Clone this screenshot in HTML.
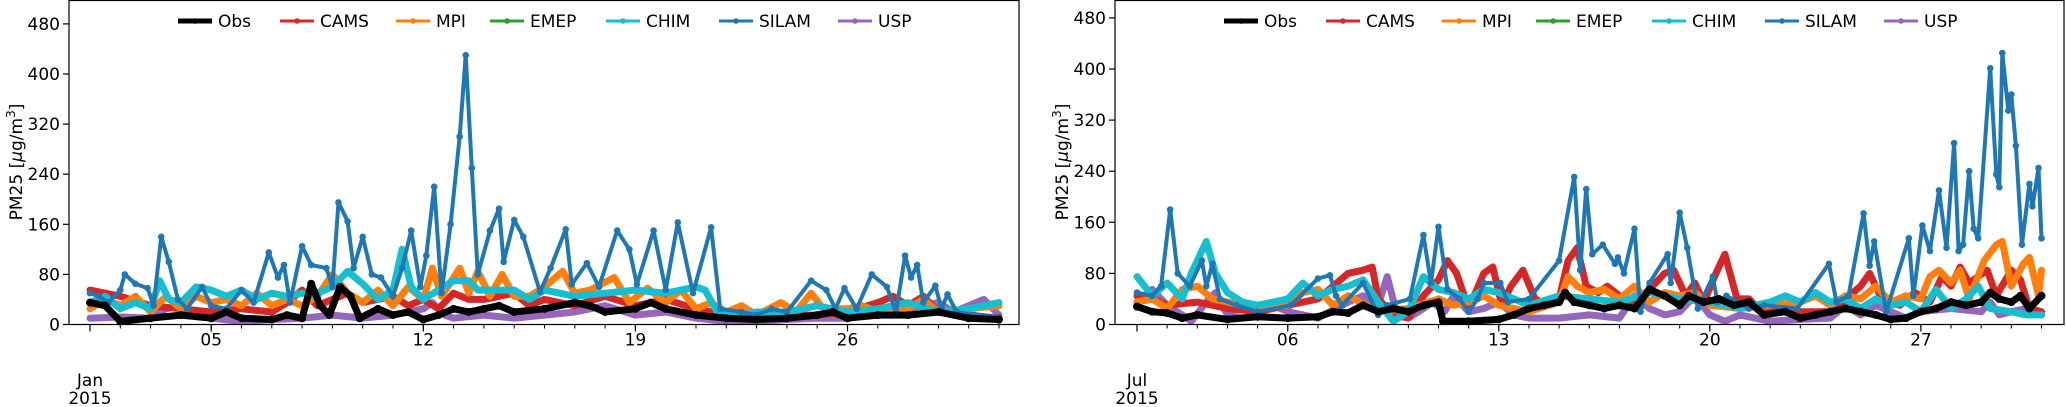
<!DOCTYPE html>
<html><head><meta charset="utf-8"><style>
html,body{margin:0;padding:0;background:#fff;}
svg{display:block;font-family:"DejaVu Sans","Liberation Sans",sans-serif;}
</style></head><body>
<svg id="c" width="2066" height="407" viewBox="0 0 2066 407" xmlns="http://www.w3.org/2000/svg"></svg>
<script>
// ---- data: January panel (day-of-month, value) ----
const janObsT=[1,1.5,2,3,4,5,5.5,6,7,7.5,8,8.3,8.6,8.9,9.25,9.6,9.9,10.5,11,11.5,12,12.5,13,13.5,14,14.5,15,16,17,17.5,18,19,19.5,20,21,22,23,24,25,25.5,26,27,28,29,30,31];
const janObsV=[35,30,5,10,15,10,20,10,8,15,10,65,30,15,60,45,10,25,15,20,8,15,25,20,25,30,20,25,35,30,20,25,35,25,15,10,8,10,15,20,10,15,15,20,10,8];
const janCamsT=[1,2,3,4,5,6,7,7.5,8,8.5,9,9.5,10,11,11.5,12,12.5,13,13.5,14,15,15.5,16,17,18,19,20,21,22,23,24,25,26,27,27.5,28,28.5,29,30,31];
const janCamsV=[55,45,30,25,20,25,20,35,55,30,40,50,35,45,30,40,25,50,40,40,50,30,40,30,45,30,40,25,15,10,15,15,20,35,45,30,45,20,15,10];
const janMpiT=[1,1.5,2,2.5,3,3.5,4,4.5,5,5.5,6,6.5,7,7.5,8,8.5,9,9.5,10,10.5,11,11.5,12,12.3,12.6,13.2,13.5,13.8,14.2,14.6,15,15.5,16,16.6,17,17.5,18.3,18.8,19.4,20,20.5,21,21.5,22,22.5,23,23.8,24.3,24.8,25.2,26,26.5,27,28,28.5,29,30,31];
const janMpiV=[25,40,30,45,20,45,25,45,35,40,30,50,30,40,30,45,80,50,35,55,30,60,40,90,45,90,50,85,45,80,45,45,60,85,50,55,75,35,58,35,55,25,35,20,30,15,35,20,50,25,25,30,20,25,40,20,25,30];
const janChimT=[1,1.5,2,2.5,3,3.3,3.6,4,4.5,5,5.5,6,6.5,7,7.5,8,8.5,9,9.5,10,10.5,11,11.3,11.6,12,12.5,13,13.5,13.8,14.2,15,15.5,16,17,18,19,20,21,21.3,21.7,22.5,23,24,25,26,27,28,29,30,31];
const janChimV=[35,45,25,35,25,70,40,35,60,55,45,55,40,50,45,50,50,60,85,65,40,55,120,60,40,55,70,70,55,55,55,40,55,45,50,55,50,60,55,20,15,20,20,30,20,25,35,20,25,35];
const janSilamT=[1,1.3,1.6,2,2.15,2.5,2.9,3.1,3.35,3.6,3.9,4.2,4.7,5,5.5,6,6.4,6.9,7.2,7.4,7.6,8,8.3,8.8,9,9.2,9.5,9.7,10,10.3,10.6,11,11.3,11.6,11.9,12.1,12.36,12.6,12.9,13.2,13.4,13.6,13.8,14.2,14.5,14.65,15,15.3,15.85,16.2,16.7,16.9,17.4,17.8,18.4,18.8,19.05,19.6,20,20.4,20.9,21.5,21.8,22.5,23,23.5,24,24.8,25.3,25.6,25.9,26.3,26.8,27.3,27.6,27.9,28.1,28.3,28.5,28.9,29.1,29.3,29.6,30.2,31];
const janSilamV=[50,45,35,55,80,65,58,30,140,100,40,25,60,30,25,55,35,115,75,95,35,125,95,90,60,195,165,90,140,80,75,45,90,150,60,110,220,50,160,300,430,250,80,150,185,100,167,140,52,90,152,64,98,60,150,120,64,150,55,163,50,155,25,20,15,25,20,70,55,25,58,25,80,60,20,110,75,95,35,62,25,48,20,15,12];
const janUspT=[1,2,3,3.5,4,4.5,5,6,7,8,9,10,11,12,12.3,12.7,13,14,15,16,17,18,19,20,21,22,23,24,25,26,27,28,29,29.5,30,30.5,31];
const janUspV=[10,12,10,25,30,15,10,5,8,10,15,10,15,25,35,15,10,15,10,15,20,30,15,20,10,5,5,8,10,10,20,25,35,20,30,40,15];
// ---- data: July panel ----
const julObsT=[1,1.5,2,2.5,3,4,5,6,7,7.5,8,8.5,9,9.5,10,10.5,11,11.15,12,13,13.5,14,14.5,15,15.2,15.5,16,16.5,17,17.5,18,18.5,19,19.3,19.8,20.3,20.8,21.3,21.8,22.5,23,23.5,24,24.5,25,25.5,26,26.5,27,27.5,28,28.5,29,29.3,29.6,30,30.3,30.6,31];
const julObsV=[28,20,18,10,15,8,12,10,12,20,18,30,20,25,20,30,35,5,5,8,15,25,30,35,50,35,30,25,30,25,55,45,30,45,35,40,30,35,15,20,10,15,20,25,20,15,8,10,20,25,35,30,35,50,40,35,45,25,45];
const julCamsT=[1,1.5,2,3,4,5,6,7,7.5,8,8.5,8.8,9,9.5,10,10.5,11,11.3,11.6,12,12.5,12.8,13.1,13.4,13.8,14.2,14.6,15,15.3,15.6,15.9,16.3,16.6,17,17.5,18,18.5,18.8,19.2,19.5,19.8,20.2,20.5,20.9,21.3,21.6,22,23,24,25,25.3,25.7,26.3,26.8,27.3,27.7,28,28.3,28.6,29.2,29.5,30,30.3,30.6,31];
const julCamsV=[45,40,30,35,25,20,30,40,60,80,85,90,40,15,10,45,70,100,80,25,80,90,30,60,85,40,30,40,100,120,60,50,60,45,35,55,80,85,45,65,35,80,110,40,40,25,20,20,20,60,80,40,30,50,35,75,60,90,65,85,45,85,70,25,20];
const julMpiT=[1,1.5,2,2.5,3,3.5,4,5,6,6.5,7,7.5,8,9,10,11,11.5,12,12.5,13,14,15,15.3,15.6,16,16.5,17,17.5,18,18.5,19,19.5,20,21,22,23,23.5,24,24.5,25,25.5,26,26.5,27,27.3,27.6,28,28.3,28.6,29.1,29.5,29.7,30,30.4,30.6,30.9,31];
const julMpiV=[35,40,25,55,60,40,35,25,30,50,55,30,45,20,25,40,30,35,45,30,20,35,75,60,50,55,40,60,35,50,45,50,30,25,30,35,45,30,45,40,60,35,45,40,75,85,65,85,40,100,125,130,60,95,105,45,85];
const julChimT=[1,1.5,2,2.5,2.8,3.3,3.6,4,4.5,5,6,6.5,7,7.5,8,8.5,9,9.5,10,10.5,11,11.5,12,12.5,13,13.5,14,15,16,17,18,19,20,21,22,22.5,23,23.5,24,24.5,25,25.5,26,26.5,27,27.5,28,28.5,28.9,29.3,30,30.5,31];
const julChimV=[75,45,65,40,80,130,80,50,35,30,40,65,45,55,60,70,35,5,20,75,55,50,40,55,50,40,30,45,40,35,50,40,35,25,35,45,35,50,35,40,25,40,30,35,20,55,25,40,60,25,20,15,15];
const julSilamT=[1,1.5,1.8,2.1,2.35,2.75,3.15,3.3,3.5,3.75,4.3,5,6.1,7,7.4,7.6,7.8,8.5,9,9.3,10.05,10.5,10.75,11,11.3,11.7,12,12.3,12.5,13.05,13.3,14,15,15.5,15.7,15.9,16.1,16.45,16.85,16.95,17.15,17.5,17.7,18,18.6,18.7,19,19.25,19.6,20.1,20.25,20.55,21.3,21.8,22.9,23.95,24.2,24.6,25.1,25.3,25.45,25.85,26.6,26.75,27.05,27.3,27.6,27.85,28.1,28.25,28.4,28.6,28.75,28.9,29.3,29.5,29.6,29.7,29.9,30.0,30.15,30.35,30.6,30.7,30.9,31.0];
const julSilamV=[50,45,60,180,80,60,100,60,95,40,30,20,30,72,77,45,30,65,15,30,40,140,65,153,55,40,20,40,65,65,35,40,100,231,85,212,110,125,95,105,80,150,20,65,110,65,175,120,25,75,35,45,25,30,25,95,35,45,174,92,130,20,135,45,155,115,210,120,284,115,125,240,150,135,401,235,215,425,335,360,280,125,220,185,245,135];
const julUspT=[1,1.5,2,2.5,2.8,3.3,3.6,4,4.5,5,5.5,6,7,8,8.5,9,9.3,9.6,10,10.5,10.8,11.2,11.5,12,12.5,13,13.5,14,15,16,17,17.5,18,18.5,19,19.5,20,20.5,21,22,23,24,24.5,25,25.5,26,26.5,27,28,29,29.3,29.6,30,30.5,31];
const julUspV=[35,55,30,15,5,35,50,15,10,15,30,20,10,35,45,30,75,20,10,25,35,20,45,20,25,35,15,10,10,15,10,45,25,15,20,45,15,5,15,5,8,10,30,15,30,20,10,20,25,20,35,15,20,25,15];
const yTicks=[0,80,160,240,320,400,480];
const janTickDays=[5,12,19,26], janTickLabels=["05","12","19","26"];
const julTickDays=[6,13,20,27], julTickLabels=["06","13","20","27"];
const seriesNames=["Obs","CAMS","MPI","EMEP","CHIM","SILAM","USP"];
const seriesColors=["#000000","#d62728","#ff7f0e","#2ca02c","#17becf","#1f77b4","#9467bd"];

const NS="http://www.w3.org/2000/svg";
const svg=document.getElementById('c');
function mk(tag,attrs,parent){const e=document.createElementNS(NS,tag);for(const k in attrs)e.setAttribute(k,attrs[k]);(parent||svg).appendChild(e);return e;}

function panel(cfg){
  const g=mk('g',{});
  
  
  const X=d=>cfg.x0+cfg.dayW*(d-1);
  const Y=v=>cfg.yb-(v/80)*cfg.y80;
  const order=[6,1,2,4,5,0];
  const sets={0:[cfg.obsT,cfg.obsV],1:[cfg.camsT,cfg.camsV],2:[cfg.mpiT,cfg.mpiV],4:[cfg.chimT,cfg.chimV],5:[cfg.silamT,cfg.silamV],6:[cfg.uspT,cfg.uspV]};
  order.forEach(i=>{
    const [T,V]=sets[i];
    const pts=T.map((t,j)=>X(t).toFixed(1)+','+Y(V[j]).toFixed(1)).join(' ');
    const sw=(i===5)?4:7;
    const pl=mk('polyline',{points:pts,fill:'none',stroke:seriesColors[i],'stroke-width':sw,'stroke-linejoin':'round','stroke-linecap':'round'},g);
    
    
    if(i===5||i===0){
      T.forEach((t,j)=>{const c=mk('circle',{cx:X(t),cy:Y(V[j]),r:i===5?3.3:4,fill:seriesColors[i]},g);
        
        });
    }
  });
  const fr=mk('rect',{x:cfg.x0a,y:0.5,width:cfg.x1-cfg.x0a,height:cfg.yb-0.5,fill:'none',stroke:'#000','stroke-width':1.2},g);
  
  
  yTicks.forEach(v=>{
    mk('line',{x1:cfg.x0a-6,x2:cfg.x0a,y1:Y(v),y2:Y(v),stroke:'#000','stroke-width':1.2},g);
    const t=mk('text',{x:cfg.x0a-9,y:Y(v)+6,'text-anchor':'end','font-size':17,fill:'#000'},g);
    t.textContent=v;
    
    
  });
  for(let d=1;d<=31;d++){mk('line',{x1:X(d),x2:X(d),y1:cfg.yb,y2:cfg.yb+4,stroke:'#000','stroke-width':1},g);}
  cfg.tickDays.forEach((d,k)=>{
    mk('line',{x1:X(d),x2:X(d),y1:cfg.yb,y2:cfg.yb+7,stroke:'#000','stroke-width':1.2},g);
    const t=mk('text',{x:X(d),y:cfg.yb+21,'text-anchor':'middle','font-size':17},g);
    t.textContent=cfg.tickLabels[k];
    
    
  });
  mk('line',{x1:X(1),x2:X(1),y1:cfg.yb,y2:cfg.yb+7,stroke:'#000','stroke-width':1.2},g);
  const m=mk('text',{x:X(1),y:386,'text-anchor':'middle','font-size':17},g);
  m.textContent=cfg.month;
  
  
  const yr=mk('text',{x:X(1),y:404,'text-anchor':'middle','font-size':17},g);
  yr.textContent='2015';
  
  
  const yl=mk('text',{transform:`translate(${cfg.ylx},162) rotate(-90)`,'text-anchor':'middle','font-size':17},g);
  yl.innerHTML='PM25 [<tspan font-style="italic">μ</tspan>g/m<tspan dy="-7" font-size="12">3</tspan><tspan dy="7">]</tspan>';
  
  
  const lx=[178,280,396,490,606,719,838];
  seriesNames.forEach((n,i)=>{
    const x=lx[i]+cfg.legOff;
    const lg=mk('g',{},g);
    
    
    mk('line',{x1:x,x2:x+34,y1:21,y2:21,stroke:seriesColors[i],'stroke-width':i===0?5:3},lg);
    mk('circle',{cx:x+17,cy:21,r:2.8,fill:seriesColors[i]},lg);
    const t=mk('text',{x:x+40,y:27,'font-size':17},lg);
    t.textContent=n;
  });
}
panel({name:'january-panel',x0:90,x0a:69,x1:1019,dayW:30.3,yb:324.5,y80:50.1,ylx:22,month:'Jan',legOff:0,
  tickDays:janTickDays,tickLabels:janTickLabels,
  obsT:janObsT,obsV:janObsV,camsT:janCamsT,camsV:janCamsV,mpiT:janMpiT,mpiV:janMpiV,chimT:janChimT,chimV:janChimV,silamT:janSilamT,silamV:janSilamV,uspT:janUspT,uspV:janUspV});
panel({name:'july-panel',x0:1137,x0a:1115,x1:2064,dayW:30.15,yb:324.5,y80:51.1,ylx:1068,month:'Jul',legOff:1046,
  tickDays:julTickDays,tickLabels:julTickLabels,
  obsT:julObsT,obsV:julObsV,camsT:julCamsT,camsV:julCamsV,mpiT:julMpiT,mpiV:julMpiV,chimT:julChimT,chimV:julChimV,silamT:julSilamT,silamV:julSilamV,uspT:julUspT,uspV:julUspV});
</script>
</body></html>
